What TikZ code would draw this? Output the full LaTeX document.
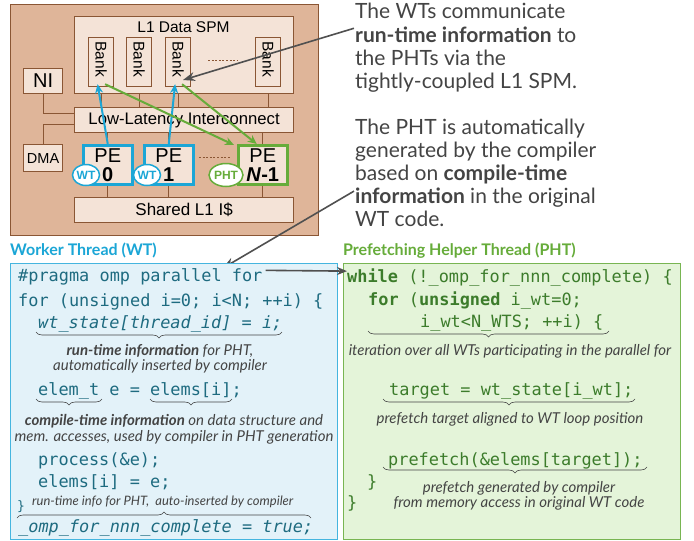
\documentclass[tikz,border=0pt]{standalone}
\usepackage{fontspec}
\setmainfont{Lato}
\newfontfamily\archfont{Liberation Sans}
\setmonofont{DejaVu Sans Mono}
\usetikzlibrary{arrows.meta,shapes.geometric,decorations.pathreplacing,calc}
\definecolor{outerfill}{HTML}{DFB599}
\definecolor{boxfill}{HTML}{F4E3D7}
\definecolor{brownline}{HTML}{8A5634}
\definecolor{wtblue}{HTML}{1BA6D6}
\definecolor{phtgreen}{HTML}{66AC3A}
\definecolor{wtfill}{HTML}{E3F2F9}
\definecolor{wtborder}{HTML}{45B5DF}
\definecolor{phtfill}{HTML}{E4F4D9}
\definecolor{phtborder}{HTML}{78B552}
\definecolor{wtcode}{HTML}{1E6B80}
\definecolor{phtcode}{HTML}{3C7C2B}
\definecolor{annot}{HTML}{444444}
\definecolor{arrowgray}{HTML}{505050}
\newcommand\codefont{\fontsize{16.9}{20}\selectfont\ttfamily}
\begin{document}
\begin{tikzpicture}[x=1pt,y=-1pt,
  archbox/.style={draw=brownline, fill=boxfill, line width=1.2pt, inner sep=0pt, anchor=north west, font=\archfont},
  archline/.style={draw=brownline, line width=1.2pt},
  pebox/.style={archbox, line width=2.5pt, minimum width=49, minimum height=39, align=center,
     font=\archfont\fontsize{20}{20}\selectfont},
  wtmark/.style={ellipse, draw=wtblue, fill=white, line width=1.5pt, inner sep=0pt,
     minimum width=27, minimum height=21, text=wtblue, font=\archfont\bfseries\fontsize{12}{12}\selectfont},
  bluearrow/.style={draw=wtblue, line width=2pt, -{Stealth[length=9pt,width=8pt]}},
  greenarrow/.style={draw=phtgreen, line width=2pt, -{Stealth[length=9pt,width=8pt]}},
  grayarrow/.style={draw=arrowgray, line width=1.6pt, -{Stealth[length=12pt,width=9pt]}},
  rtext/.style={anchor=base west, inner sep=0pt, text=annot, font=\fontsize{21}{23}\selectfont},
  wtline/.style={anchor=base west, inner sep=0pt, text=wtcode, font=\codefont},
  phtline/.style={anchor=base west, inner sep=0pt, text=phtcode, font=\codefont},
  note/.style={anchor=base, inner sep=0pt, text=annot, font=\itshape\fontsize{15}{16}\selectfont},
  brc/.style={decorate, decoration={brace, amplitude=6pt, mirror}, draw=annot, line width=0.6pt},
  brcup/.style={decorate, decoration={brace, amplitude=6pt}, draw=annot, line width=0.6pt},
]
\useasboundingbox (0,0) rectangle (694,541);
\fill[white] (0,0) rectangle (694,541);

% ---------------- architecture ----------------
\node[archbox, fill=outerfill, minimum width=308, minimum height=231] (chip) at (10,4) {};
\node[archbox, minimum width=219, minimum height=77] (spm) at (74,16) {};
\node[inner sep=0pt, font=\archfont\fontsize{15.5}{16}\selectfont] (spmlabel) at (183.5,27) {L1 Data SPM};
\foreach \n/\x in {1/88,2/126,3/165,4/255}{
  \node[archbox, minimum width=25, minimum height=49] (bank\n) at (\x,37) {};
  \node[rotate=-90, inner sep=0pt, font=\archfont\fontsize{15.5}{16}\selectfont] (banklabel\n) at ($(bank\n.center)+(0,-3)$) {Bank};
}
\coordinate (spmdotsA) at (208,60);
\coordinate (spmdotsB) at (237,60);
\draw[brownline, line width=1pt, dash pattern=on 2pt off 1.6pt] (spmdotsA) -- (spmdotsB);

\node[archbox, minimum width=39, minimum height=25, font=\archfont\fontsize{20}{20}\selectfont] (ni) at (23,68) {NI};
\node[archbox, minimum width=219, minimum height=25, font=\archfont\fontsize{16.7}{17}\selectfont] (ic) at (74,107) {Low-Latency Interconnect};
\node[archbox, minimum width=39, minimum height=27, font=\archfont\fontsize{14.5}{15}\selectfont] (dma) at (23,144) {DMA};
\node[archbox, minimum width=219, minimum height=25, font=\archfont\fontsize{17}{17}\selectfont] (cache) at (74,197) {Shared L1 I\$};

\node[pebox, draw=wtblue] (pe0) at (82,144) {PE\\[-1pt]\textbf{0}};
\node[pebox, draw=wtblue] (pe1) at (143,144) {PE\\[-1pt]\textbf{1}};
\node[pebox, draw=phtgreen] (pen) at (237,144) {PE\\[-1pt]\textbf{\textit{N}-1}};

% wiring
\draw[archline] (ni.south) |- ($(ic.west)+(0,-6.5)$);
\draw[archline] (dma.north) |- ($(ic.west)+(0,4.5)$);
\foreach \n in {1,2,3,4}{ \draw[archline] (bank\n.south |- spm.south) -- (bank\n.south |- ic.north); }
\foreach \p in {pe0,pe1,pen}{
  \draw[archline] (\p.north |- ic.south) -- (\p.north);
  \draw[archline] (\p.south) -- (\p.south |- cache.north);
}
\coordinate (pedotsA) at (199,157);
\coordinate (pedotsB) at (230,157);
\draw[brownline, line width=1pt, dash pattern=on 2pt off 1.6pt] (pedotsA) -- (pedotsB);

\node[wtmark] (wt0) at (86,175) {WT};
\node[wtmark] (wt1) at (147,175) {WT};
\node[wtmark, draw=phtgreen, text=phtgreen, minimum width=32, minimum height=23] (pht) at (226,175) {PHT};

\draw[bluearrow] (pe0.north) -- ($(bank1.south)+(-3.5,-3)$);
\draw[bluearrow] (pe1.north) -- ($(bank3.south)+(-3,-3)$);
\draw[greenarrow] ($(bank1.south)+(4,-3)$) -- ($(pen.north west)+(-3,1)$);
\draw[greenarrow] ($(bank3.south)+(4,-3)$) -- ($(pen.north)+(-6,0)$);

% ---------------- right text ----------------
\node[rtext] (t1a) at (355,18) {The WTs communicate};
\node[rtext] (t1b) at (355,42) {\textbf{run-time information} to};
\node[rtext] (t1c) at (355,65) {the PHTs via the};
\node[rtext] (t1d) at (355,88) {tightly-coupled L1 SPM.};
\node[rtext] (t2a) at (355,134) {The PHT is automatically};
\node[rtext] (t2b) at (355,157) {generated by the compiler};
\node[rtext] (t2c) at (355,180) {based on \textbf{compile-time}};
\node[rtext] (t2d) at (355,203) {\textbf{information} in the original};
\node[rtext] (t2e) at (355,226) {WT code.};

\coordinate (tipspm) at (183,80);
\coordinate (tipcode) at (223,268);
\draw[grayarrow] ($(t1b.west)+(-1,-6)$) -- (tipspm);
\draw[grayarrow] ($(t2d.west)+(-1,-6)$) -- (tipcode);

% ---------------- code boxes ----------------
\node[anchor=base west, inner sep=0pt, text=wtblue, font=\bfseries\fontsize{16}{17}\selectfont] (wthead) at (10,255) {Worker Thread (WT)};
\node[anchor=base west, inner sep=0pt, text=phtgreen, font=\bfseries\fontsize{16}{17}\selectfont] (phthead) at (343,255) {Prefetching Helper Thread (PHT)};

\node[draw=wtborder, fill=wtfill, line width=1.2pt, anchor=north west, inner sep=0pt, minimum width=327, minimum height=276] (wtbox) at (10,263) {};
\node[draw=phtborder, fill=phtfill, line width=1.2pt, anchor=north west, inner sep=0pt, minimum width=337, minimum height=276] (phtbox) at (343,263) {};

% WT code
\node[wtline] (pragma) at (18,281) {\#pragma omp parallel for};
\node[wtline] (wtfor) at (18,306) {for (unsigned i=0; i<N; ++i) \{};
\node[wtline, font=\codefont\itshape] (wtstate) at (38,328) {wt\_state[thread\_id] = i;};
\draw[brc] (36,332) -- (282,332);
\node[note] (n1a) at (160,355) {\textbf{run-time information} for PHT,};
\node[note] (n1b) at (160,370) {automatically inserted by compiler};
\node[wtline] (elemt) at (38,395) {elem\_t e = elems[i];};
\draw[brc] (36,399) -- (102,399);
\draw[brc] (150,399) -- (232,399);
\node[note] (n2a) at (174,425) {\textbf{compile-time information} on data structure and};
\node[note] (n2b) at (174,441) {mem. accesses, used by compiler in PHT generation};
\node[wtline] (process) at (38,465) {process(\&e);};
\node[wtline] (store) at (38,487) {elems[i] = e;};
\node[wtline, font=\fontsize{13}{15}\selectfont\ttfamily] (wtclose) at (17,510) {\}};
\node[note, anchor=base west, font=\itshape\fontsize{13}{14}\selectfont] (n3) at (32,505) {run-time info for PHT,\ \ auto-inserted by compiler};
\draw[brcup] (17,518) -- (311,518);
\node[wtline, font=\codefont\itshape] (complete) at (18,532) {\_omp\_for\_nnn\_complete = true;};

% PHT code
\node[phtline] (while) at (347,282) {\textbf{while} (!\_omp\_for\_nnn\_complete) \{};
\node[phtline] (phtfor) at (368,305) {\textbf{for} (\textbf{unsigned} i\_wt=0;};
\node[phtline] (phtcond) at (420,327) {i\_wt<N\_WTS; ++i) \{};
\draw[brc] (368,331) -- (609,331);
\node[note] (n4) at (510,355) {iteration over all WTs participating in the parallel for};
\node[phtline] (target) at (389,395) {target = wt\_state[i\_wt];};
\draw[brc] (383,399) -- (635,399);
\node[note] (n5) at (510,423) {prefetch target aligned to WT loop position};
\node[phtline] (prefetch) at (388,465) {prefetch(\&elems[target]);};
\draw[brc] (383,467) -- (647,467);
\node[phtline] (innerclose) at (367,487) {\}};
\node[note] (n6a) at (519,492) {prefetch generated by compiler};
\node[note] (n6b) at (519,507) {from memory access in original WT code};
\node[phtline] (outerclose) at (347,508) {\}};

\draw[arrowgray, line width=1.6pt, -{Stealth[length=10pt,width=8pt]}] ($(pragma.east)+(3,-6)$) -- ($(while.west)+(0,-6)$);
\end{tikzpicture}
\end{document}
